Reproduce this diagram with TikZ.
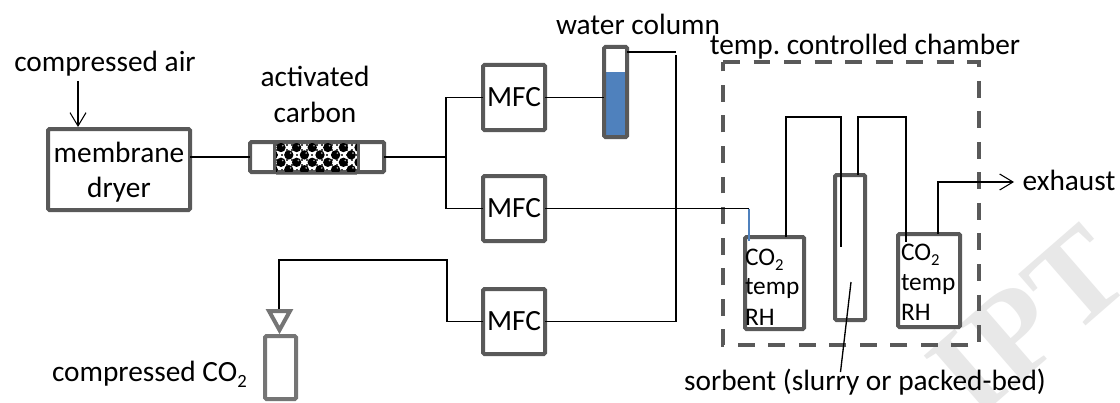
\documentclass[tikz,border=0pt]{standalone}
\usepackage{fontspec}
\setmainfont{Carlito}
\newfontfamily\wmfont{Liberation Serif}
\usetikzlibrary{arrows.meta}
\definecolor{boxgray}{HTML}{595959}
\definecolor{valvegray}{HTML}{757575}
\definecolor{waterblue}{HTML}{4F81BD}
\newcommand{\subtwo}[1]{\raisebox{-0.22em}{\fontsize{#1}{#1}\selectfont 2}}
\frenchspacing
\tikzset{
  boxed/.style={draw=boxgray,line width=3pt,rounded corners=1pt,inner sep=0pt,outer sep=0pt,align=center},
  pipe/.style={draw=black,line width=1pt},
  lab/.style={inner sep=0pt,outer sep=0pt,anchor=base,font=\fontsize{22}{26}\selectfont,text=black},
  small/.style={inner sep=0pt,outer sep=0pt,anchor=base west,font=\fontsize{19}{19}\selectfont,text=black},
  mfcbox/.style={boxed,minimum width=46.5pt,minimum height=48.75pt,font=\fontsize{22}{26}\selectfont},
  barb/.style={-{Straight Barb[length=10pt,width=12pt,line width=0.8pt]}},
}
\begin{document}
\begin{tikzpicture}[x=0.75pt,y=-0.75pt]
\useasboundingbox (0,0) rectangle (1120,403);
\fill[white] (0,0) rectangle (1120,403);
% watermark
\node[inner sep=0pt,text=black!9,rotate=41,font=\wmfont\bfseries\fontsize{95}{95}\selectfont] (wm) at (1028,321) {IPT};
% chamber
\draw[boxgray,line width=3pt,dash pattern=on 12.7pt off 10.2pt] (723,62) -- (979,62) -- (979,345) -- (723,345) -- cycle;
% nodes
\node[boxed,minimum width=106.5pt,minimum height=60.75pt] (dryer) at (119,169.5) {};
\node[boxed,minimum width=100.5pt,minimum height=22.5pt] (carbon) at (317,157) {};
\node[mfcbox] (m1) at (514,97.5) {MFC};
\node[mfcbox] (m2) at (514,208.5) {MFC};
\node[mfcbox] (m3) at (514,321.5) {MFC};
\fill[waterblue] (604,72) rectangle (627,137);
\node[boxed,minimum width=17.25pt,minimum height=67.5pt] (col) at (615.5,92) {};
\node[boxed,minimum width=44.25pt,minimum height=69pt] (s1) at (774.5,283) {};
\node[boxed,minimum width=22.5pt,minimum height=108.75pt] (bed) at (850,247.5) {};
\node[boxed,minimum width=46.5pt,minimum height=69.75pt] (s2) at (929,280.5) {};
\node[boxed,draw=valvegray,minimum width=23.25pt,minimum height=47.25pt] (cyl) at (280.5,367.5) {};
% carbon bed
\begin{scope}
\clip (276,143.5) rectangle (357,171);
\foreach \i in {0,...,16}{\foreach \j in {0,...,6}{
  \fill[black!70] (276+\i*5,144+\j*5) rectangle +(1.6,1.6);
}}
\foreach \r in {0,1,2,3}{
  \foreach \c in {-1,...,5}{
    \pgfmathsetmacro{\xx}{281+\c*15.6+mod(\r,2)*7.8}
    \pgfmathsetmacro{\yy}{147.5+\r*7.4}
    \fill[black] (\xx,\yy) circle (3.5pt);
    \fill[white!65!black] (\xx+1.8,\yy-1.8) circle (0.7pt);
  }
}
\end{scope}
\draw[boxgray,line width=2pt] (274.5,141) -- (274.5,173) (358.5,141) -- (358.5,173);
\draw[black!45,line width=1pt] (276,174.5) -- (357,174.5);
% valve
\coordinate (vtop) at (279,309);
\draw[valvegray,line width=3pt,line join=miter] (269,311) -- (290,311) -- (279.5,330) -- cycle;
% connectors
\coordinate (j) at (446,157);
\coordinate (airtop) at (78,81);
\coordinate (airend) at (78,127);
\coordinate (colv) at (676,52);
\coordinate (colw) at (676,55);
\coordinate (in) at (749,208.5);
\coordinate (inb) at (749,241);
\coordinate (a1) at (786,117);
\coordinate (a2) at (841,117);
\coordinate (a2b) at (841,247);
\coordinate (b1) at (858,117);
\coordinate (b2) at (906,117);
\coordinate (b2b) at (906,242);
\coordinate (c1) at (938,182);
\coordinate (ex) at (1014,182);
\coordinate (leada) at (851,282);
\coordinate (leadb) at (840.5,372);
\coordinate (v1) at (279,260);
\coordinate (v2) at (447,260);
\draw[pipe] (dryer.east |- carbon.west) -- (carbon.west);
\draw[pipe] (carbon.east) -- (j);
\draw[pipe] (m1.west) -| (j) |- (m2.west);
\draw[pipe] (m1.east) -- (m1.east -| col.west);
\draw[pipe] (col.east |- colv) -- (colv);
\draw[pipe] (colw) |- (m3.east);
\draw[pipe] (m2.east) -- (in);
\draw[waterblue,line width=1pt] (in) -- (inb);
\draw[pipe] (a1 |- s1.north) -- (a1) -- (a2) -- (a2b);
\draw[pipe] (b1 |- bed.north) -- (b1) -- (b2) -- (b2b);
\draw[pipe,barb] (c1 |- s2.north) -- (c1) -- (ex);
\draw[pipe] (leada) -- (leadb);
\draw[pipe] (m3.west) -| (v2) -- (v1) -- (vtop);
\draw[pipe,line width=0.8pt,barb] (airtop) -- (airend);
% labels
\node[lab] (t1) at (105,72) {compressed air};
\node[lab] (t2a) at (315,87) {activated};
\node[lab] (t2b) at (315,122) {carbon};
\node[lab] (t3a) at (119,162) {membrane};
\node[lab] (t3b) at (119,197) {dryer};
\node[lab] (t4) at (638,35) {water column};
\node[lab] (t5) at (865,55) {temp. controlled chamber};
\node[lab] (t6) at (1069,190) {exhaust};
\node[lab] (t7) at (865,390) {sorbent (slurry or packed-bed)};
\node[lab,anchor=base west] (t8) at (52,381) {compressed CO\subtwo{14}};
\node[small] (t9) at (745,265) {CO\subtwo{12.5}};
\node[small] (t10) at (745,294) {temp};
\node[small] (t11) at (745,325) {RH};
\node[small] (t12) at (901,260) {CO\subtwo{12.5}};
\node[small] (t13) at (901,290) {temp};
\node[small] (t14) at (901,320) {RH};
\end{tikzpicture}
\end{document}
